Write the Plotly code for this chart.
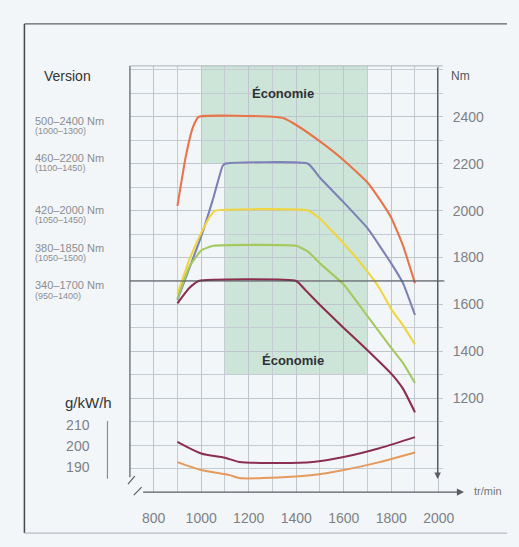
import plotly.graph_objects as go

W, H = 519, 547

# ---------------- data ----------------
rpm_orange = [900, 935, 965, 990, 1300, 1350, 1400, 1500, 1600, 1700, 1750, 1800, 1850, 1900]
nm_orange = [2020, 2230, 2355, 2400, 2400, 2393, 2365, 2295, 2215, 2120, 2050, 1970, 1850, 1690]

rpm_blue = [900, 1000, 1050, 1090, 1100, 1450, 1500, 1600, 1700, 1800, 1850, 1900]
nm_blue = [1620, 1890, 2050, 2190, 2200, 2200, 2140, 2035, 1925, 1775, 1690, 1555]

rpm_yellow = [900, 950, 1000, 1040, 1060, 1450, 1500, 1600, 1700, 1750, 1800, 1850, 1900]
nm_yellow = [1645, 1790, 1905, 1980, 2000, 2000, 1965, 1860, 1740, 1670, 1580, 1510, 1430]

rpm_green = [900, 950, 1000, 1050, 1400, 1450, 1500, 1600, 1700, 1800, 1850, 1900]
nm_green = [1625, 1760, 1830, 1850, 1850, 1825, 1775, 1685, 1550, 1415, 1350, 1265]

rpm_maroon = [900, 950, 990, 1400, 1440, 1500, 1600, 1700, 1800, 1850, 1900]
nm_maroon = [1605, 1670, 1700, 1700, 1660, 1598, 1500, 1405, 1305, 1240, 1140]

rpm_bsfc_hi = [900, 1000, 1100, 1160, 1260, 1470, 1600, 1750, 1900]
bsfc_hi = [202, 196.5, 194.5, 192.5, 192, 192.4, 194.8, 199, 204.3]
rpm_bsfc_lo = [900, 1000, 1120, 1160, 1260, 1470, 1600, 1750, 1900]
bsfc_lo = [192.4, 188.6, 186.2, 184.8, 184.8, 186.2, 188.6, 192.4, 197]

x_ticks = [800, 1000, 1200, 1400, 1600, 1800, 2000]
nm_ticks = [1200, 1400, 1600, 1800, 2000, 2200, 2400]
g_ticks = [190, 200, 210]

version_labels = ["500–2400 Nm", "460–2200 Nm", "420–2000 Nm", "380–1850 Nm", "340–1700 Nm"]
version_ranges = ["(1000–1300)", "(1100–1450)", "(1050–1450)", "(1050–1500)", "(950–1400)"]

# economy zones (rpm from, rpm to, Nm from, Nm to)
eco_upper = [1000, 1700, 2200, 2617]
eco_lower = [1100, 1700, 1300, 2200]

# ---------------- styling ----------------
FONT = "Liberation Sans"
BG = "#f3f6f9"
GRID = "#c6ccd3"
TXT_GRAY = "#7c8187"

PL, PR, PT, PB = 133, 453, 65, 492   # plot area in px


def X(px):
    return px / W


def Y(py):
    return 1 - py / H


def XD(px):  # x-domain fraction
    return (px - PL) / (PR - PL)


def YD(py):  # y-domain fraction
    return (PB - py) / (PB - PT)


fig = go.Figure()

line_w = 2.1
for xs, ys, col in [
    (rpm_orange, nm_orange, "#e8744a"),
    (rpm_blue, nm_blue, "#7d82b6"),
    (rpm_yellow, nm_yellow, "#efd640"),
    (rpm_green, nm_green, "#a5c95f"),
    (rpm_maroon, nm_maroon, "#8c2d4e"),
]:
    fig.add_trace(go.Scatter(x=xs, y=ys, mode="lines",
                             line=dict(color=col, width=line_w, shape="spline", smoothing=0.4),
                             hoverinfo="skip", showlegend=False))

fig.add_trace(go.Scatter(x=rpm_bsfc_hi, y=bsfc_hi, yaxis="y2", mode="lines",
                         line=dict(color="#8a2e52", width=2, shape="spline", smoothing=0.8),
                         hoverinfo="skip", showlegend=False))
fig.add_trace(go.Scatter(x=rpm_bsfc_lo, y=bsfc_lo, yaxis="y2", mode="lines",
                         line=dict(color="#e59a5c", width=2, shape="spline", smoothing=0.8),
                         hoverinfo="skip", showlegend=False))

shapes = []
eco_col = "rgba(150,205,172,0.42)"
for z in (eco_upper, eco_lower):
    shapes.append(dict(type="rect", xref="x", yref="y", x0=z[0], x1=z[1], y0=z[2], y1=z[3],
                       fillcolor=eco_col, line=dict(width=0), layer="below"))

# dark reference line at 1700 Nm
shapes.append(dict(type="line", xref="paper", yref="y", x0=X(133), x1=X(455), y0=1700, y1=1700,
                   line=dict(color="#4a4d52", width=1.2)))
# plot frame lines
shapes.append(dict(type="line", xref="paper", yref="paper", x0=X(133), x1=X(133), y0=Y(65), y1=Y(477),
                   line=dict(color="#5a5e63", width=1.2)))
shapes.append(dict(type="line", xref="paper", yref="paper", x0=X(133), x1=X(453), y0=Y(65), y1=Y(65),
                   line=dict(color="#aab0b7", width=1)))
# break marks
shapes.append(dict(type="line", xref="paper", yref="paper", x0=X(131), x1=X(138), y0=Y(484), y1=Y(476),
                   line=dict(color="#5a5e63", width=1.2)))
shapes.append(dict(type="line", xref="paper", yref="paper", x0=X(137), x1=X(145), y0=Y(495), y1=Y(487),
                   line=dict(color="#5a5e63", width=1.2)))
# g/kWh axis line
shapes.append(dict(type="line", xref="paper", yref="y2", x0=X(110), x1=X(110), y0=184.5, y1=212,
                   line=dict(color="#8a8f95", width=1.2)))
# outer frame
shapes.append(dict(type="line", xref="paper", yref="paper", x0=X(25), x1=1, y0=Y(23), y1=Y(23),
                   line=dict(color="#5c6066", width=1.2)))
shapes.append(dict(type="line", xref="paper", yref="paper", x0=X(25), x1=X(25), y0=Y(23), y1=Y(533),
                   line=dict(color="#45494e", width=1.5)))
shapes.append(dict(type="line", xref="paper", yref="paper", x0=X(25), x1=1, y0=Y(533), y1=Y(533),
                   line=dict(color="#b7bcc1", width=1.2)))

ann = []
ann.append(dict(text="Version", x=X(43), y=Y(75), xref="paper", yref="paper", xanchor="left",
                yanchor="middle", showarrow=False, font=dict(family=FONT, size=14, color="#333")))
label_y = [120, 157, 209, 247, 285]
for lab, rng, yy in zip(version_labels, version_ranges, label_y):
    ann.append(dict(text=lab, x=X(34), y=Y(yy), xref="paper", yref="paper", xanchor="left",
                    yanchor="middle", showarrow=False, font=dict(family=FONT, size=11, color="#8a8e93")))
    ann.append(dict(text=rng, x=X(34), y=Y(yy + 10.5), xref="paper", yref="paper", xanchor="left",
                    yanchor="middle", showarrow=False, font=dict(family=FONT, size=9, color="#8a8e93")))
ann.append(dict(text="Nm", x=X(460), y=Y(75), xref="paper", yref="paper", xanchor="left",
                yanchor="middle", showarrow=False, font=dict(family=FONT, size=12, color="#555")))
ann.append(dict(text="<b>Économie</b>", x=1346, y=2498, xref="x", yref="y", showarrow=False,
                font=dict(family=FONT, size=13, color="#2e3135")))
ann.append(dict(text="<b>Économie</b>", x=1387, y=1362, xref="x", yref="y", showarrow=False,
                font=dict(family=FONT, size=13, color="#2e3135")))
ann.append(dict(text="g/kW/h", x=X(64), y=Y(402), xref="paper", yref="paper", xanchor="left",
                yanchor="middle", showarrow=False, font=dict(family=FONT, size=15, color="#333")))
ann.append(dict(text="tr/min", x=X(483), y=Y(491), xref="paper", yref="paper", xanchor="left",
                yanchor="middle", showarrow=False, font=dict(family=FONT, size=11, color="#777")))
# arrows: x axis and Nm axis (positions relative to the plot domain so they scale)
ann.append(dict(x=XD(475), y=YD(492), xref="x domain", yref="y domain",
                ax=XD(145), ay=YD(492), axref="x domain", ayref="y domain", text="",
                showarrow=True, arrowhead=2, arrowsize=1.1, arrowwidth=1.3, arrowcolor="#5a5e63"))
ann.append(dict(x=XD(448), y=YD(479), xref="x domain", yref="y domain",
                ax=XD(448), ay=YD(65), axref="x domain", ayref="y domain", text="",
                showarrow=True, arrowhead=2, arrowsize=1.0, arrowwidth=1.3, arrowcolor="#5a5e63"))

fig.update_layout(
    width=W, height=H,
    margin=dict(l=0, r=0, t=0, b=0),
    paper_bgcolor=BG, plot_bgcolor="rgba(0,0,0,0)",
    showlegend=False,
    shapes=shapes, annotations=ann,
    xaxis=dict(domain=[X(PL), X(PR)], range=[700, 2016], anchor="y",
               tickmode="array", tickvals=x_ticks, ticks="", ticklabelstandoff=16,
               tickfont=dict(family=FONT, size=14, color=TXT_GRAY),
               showgrid=True, gridcolor="#bfc5cc", gridwidth=1,
               minor=dict(dtick=100, tick0=0, showgrid=True, gridcolor=GRID, gridwidth=1),
               showline=False, zeroline=False, fixedrange=True),
    yaxis=dict(domain=[Y(PB), Y(PT)], range=[800, 2617], anchor="free", position=X(448),
               side="right", tickmode="array", tickvals=nm_ticks, ticks="", ticklabelstandoff=14,
               tickfont=dict(family=FONT, size=14, color=TXT_GRAY),
               showgrid=True, gridcolor="#bfc5cc", gridwidth=1,
               minor=dict(dtick=100, tick0=0, showgrid=True, gridcolor=GRID, gridwidth=1),
               showline=False, zeroline=False, fixedrange=True),
    yaxis2=dict(domain=[Y(488), Y(418)], range=[180, 213.33], anchor="free", position=X(110),
                side="left", tickmode="array", tickvals=g_ticks, ticks="", ticklabelstandoff=18,
                tickfont=dict(family=FONT, size=14, color=TXT_GRAY),
                showgrid=False, showline=False, zeroline=False, fixedrange=True),
)

post = ("document.documentElement.style.margin='0';document.documentElement.style.overflow='hidden';"
        "document.body.style.margin='0';document.body.style.padding='0';"
        "document.body.style.background='%s';document.body.style.overflow='hidden';"
        "var gd=document.getElementById('{plot_id}');"
        "var w=window.innerWidth||%d, h=window.innerHeight||%d;"
        "if(w!==%d||h!==%d){Plotly.relayout(gd,{width:w,height:h});}" % (BG, W, H, W, H))
fig.write_html("out.html", post_script=post, config={"displayModeBar": False})
